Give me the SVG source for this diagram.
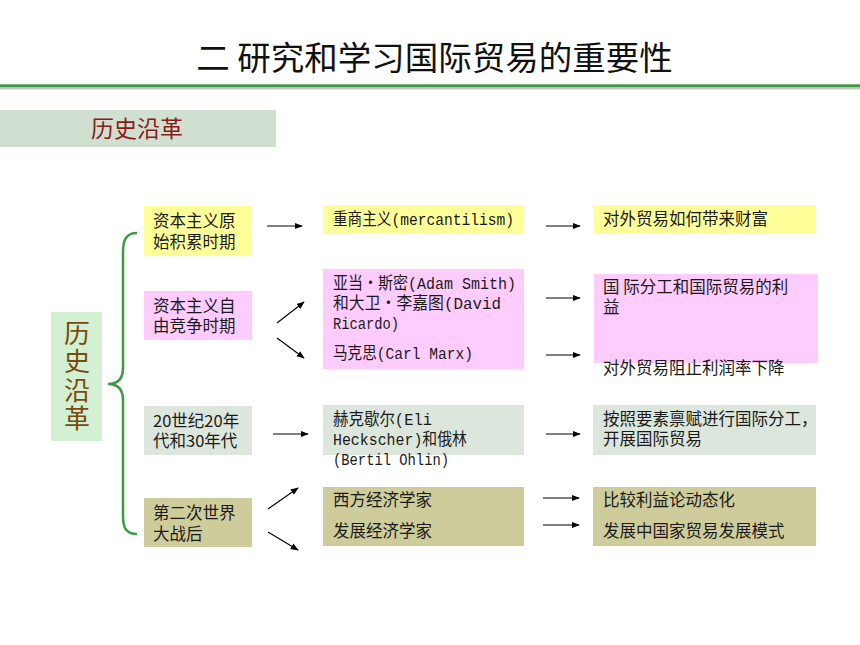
<svg xmlns="http://www.w3.org/2000/svg" width="860" height="645" viewBox="0 0 860 645">
<defs>
<marker id="ah" viewBox="0 0 10 10" refX="9" refY="5" markerWidth="8" markerHeight="8" markerUnits="userSpaceOnUse" orient="auto">
<path d="M0,1 L10,5 L0,9 z" fill="#000"/>
</marker>
</defs>
<style>
.t{font-family:"Liberation Mono","Noto Sans CJK SC",monospace;font-size:16.5px;fill:#1a1a1a}
.c{font-family:"Noto Sans CJK SC",sans-serif;font-size:16.5px;fill:#1a1a1a}
.a{stroke:#000;stroke-width:1.1;fill:none;marker-end:url(#ah)}
.yel{fill:#ffff99}
.pink{fill:#ffccff}
.grn{fill:#dce6dc}
.kh{fill:#cfcc9b}
</style>
<rect width="860" height="645" fill="#fff"/>
<g id="title">
<text x="434.5" y="70" text-anchor="middle" font-family="Noto Sans CJK SC,sans-serif" font-size="33.5" fill="#111">二 研究和学习国际贸易的重要性</text>
<rect x="0" y="87" width="860" height="2.5" fill="#c8c8c8"/>
<rect x="0" y="84.3" width="860" height="2.8" fill="#3e9a44"/>
</g>
<g id="header">
<rect x="0" y="110" width="276" height="37" fill="#d0e0d0"/>
<text x="137" y="137" text-anchor="middle" font-family="Noto Sans CJK SC,sans-serif" font-size="23" fill="#8b1a1a">历史沿革</text>
</g>
<g id="root">
<rect x="51" y="312" width="51" height="129" fill="#d2f0d2"/>
<text x="77" y="320" style="writing-mode:vertical-rl;letter-spacing:2.5px" font-family="Noto Sans CJK SC,sans-serif" font-size="26" fill="#7a4a10">历史沿革</text>
</g>
<g id="brace">
<path d="M137,233 C126,233 123,240 123,252 L123,368 C123,378 118,384 108,384 C118,384 123,390 123,400 L123,516 C123,528 126,534 137,534" fill="none" stroke="#3e9a44" stroke-width="2.5"/>
</g>
<g id="p1"><rect class="yel" x="144" y="206" width="108" height="50"/>
<text class="c" x="153" y="227">资本主义原<tspan x="153" dy="21">始积累时期</tspan></text></g>
<g id="p2"><rect class="pink" x="144" y="291" width="108" height="49"/>
<text class="c" x="153" y="312">资本主义自<tspan x="153" dy="20">由竞争时期</tspan></text></g>
<g id="p3"><rect class="grn" x="144" y="406" width="108" height="49"/>
<text class="c" x="153" y="427">20世纪20年<tspan x="153" dy="20">代和30年代</tspan></text></g>
<g id="p4"><rect class="kh" x="144" y="498" width="108" height="49"/>
<text class="c" x="153" y="519">第二次世界<tspan x="153" dy="21">大战后</tspan></text></g>

<g id="m1"><rect class="yel" x="323" y="205" width="201" height="29"/>
<text class="t" x="333" y="225" textLength="181" lengthAdjust="spacingAndGlyphs">重商主义(mercantilism)</text></g>
<g id="m2"><rect class="pink" x="323" y="269" width="201" height="100"/>
<text class="t" x="333" y="289"><tspan x="333" textLength="183" lengthAdjust="spacingAndGlyphs">亚当・斯密(Adam Smith)</tspan><tspan x="333" dy="20" textLength="168" lengthAdjust="spacingAndGlyphs">和大卫・李嘉图(David</tspan><tspan x="333" dy="20" textLength="66" lengthAdjust="spacingAndGlyphs">Ricardo)</tspan></text>
<text class="t" x="333" y="359" textLength="140" lengthAdjust="spacingAndGlyphs">马克思(Carl Marx)</text></g>
<g id="m3"><rect class="grn" x="323" y="405" width="201" height="50"/>
<text class="t" x="333" y="425"><tspan x="333" textLength="99" lengthAdjust="spacingAndGlyphs">赫克歇尔(Eli</tspan><tspan x="333" dy="20" textLength="134" lengthAdjust="spacingAndGlyphs">Heckscher)和俄林</tspan><tspan x="333" dy="20" textLength="116" lengthAdjust="spacingAndGlyphs">(Bertil Ohlin)</tspan></text></g>
<g id="m4"><rect class="kh" x="323" y="487" width="201" height="59"/>
<text class="c" x="333" y="506">西方经济学家</text>
<text class="c" x="333" y="537">发展经济学家</text></g>

<g id="r1"><rect class="yel" x="594" y="205" width="222" height="29"/>
<text class="c" x="603" y="225">对外贸易如何带来财富</text></g>
<g id="r2"><rect class="pink" x="594" y="274" width="224" height="89"/>
<text class="c" x="603" y="293">国  际分工和国际贸易的利<tspan x="603" dy="20">益</tspan></text></g>
<g id="r2b"><text class="c" x="603" y="374">对外贸易阻止利润率下降</text></g>
<g id="r3"><rect class="grn" x="593" y="405" width="223" height="50"/>
<text class="c" x="603" y="425">按照要素禀赋进行国际分工，<tspan x="603" dy="20">开展国际贸易</tspan></text></g>
<g id="r4"><rect class="kh" x="593" y="487" width="223" height="59"/>
<text class="c" x="603" y="506">比较利益论动态化</text>
<text class="c" x="603" y="537">发展中国家贸易发展模式</text></g>

<g id="connectors">
<line class="a" x1="267" y1="226" x2="302" y2="226"/>
<line class="a" x1="277" y1="323" x2="304" y2="302"/>
<line class="a" x1="277" y1="338" x2="304" y2="358"/>
<line class="a" x1="273" y1="434" x2="308" y2="434"/>
<line class="a" x1="268" y1="509" x2="298" y2="488"/>
<line class="a" x1="268" y1="532" x2="298" y2="550"/>
<line class="a" x1="546" y1="226" x2="580" y2="226"/>
<line class="a" x1="546" y1="298" x2="580" y2="298"/>
<line class="a" x1="546" y1="355" x2="580" y2="355"/>
<line class="a" x1="546" y1="434" x2="580" y2="434"/>
<line class="a" x1="543" y1="498" x2="579" y2="498"/>
<line class="a" x1="543" y1="525" x2="579" y2="525"/>
</g>
</svg>
